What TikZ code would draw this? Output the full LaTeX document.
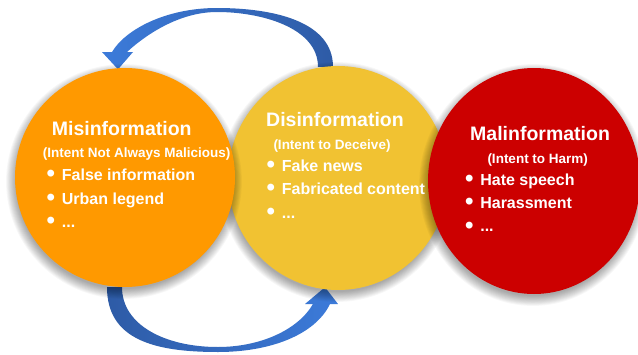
\documentclass[tikz,border=0pt]{standalone}
\usepackage{fontspec}
\setmainfont{Liberation Sans}
\usetikzlibrary{shapes.geometric,backgrounds,calc}
\definecolor{cOrange}{HTML}{FF9900}
\definecolor{cYellow}{HTML}{F1C232}
\definecolor{cRed}{HTML}{CC0000}
\definecolor{cBlueL}{HTML}{3C7BDA}
\definecolor{cBlueD}{HTML}{2E5BA6}
\newcommand\bul{\makebox[15.2pt][l]{\raisebox{-1.6pt}{\scalebox{1.5}{•}}}}
% soft shadow: centre x, centre y, x radius, y radius
\newcommand\softshade[4]{%
  \foreach \k in {0,...,11}{%
    \fill[black, opacity=0.032] (#1-1,#2+4) ellipse ({#3-2+\k*0.9} and {-(#4-2+\k*0.9)});
  }%
}
\begin{document}
\begin{tikzpicture}[x=1pt,y=-1pt,
  blob/.style={ellipse, inner sep=0pt, draw=none},
  ttl/.style={anchor=base west, inner sep=0pt, text=white, font=\bfseries\fontsize{19.5}{22}\selectfont},
  sub/.style={anchor=base west, inner sep=0pt, text=white, font=\bfseries\fontsize{13.5}{16}\selectfont},
  itm/.style={anchor=base west, inner sep=0pt, text=white, font=\bfseries\fontsize{16}{19}\selectfont}
]
\useasboundingbox (0,0) rectangle (638,354);

% circles with soft shadows
\softshade{338}{178}{110}{112}
\node[blob, fill=cYellow, minimum width=220pt, minimum height=224pt] (dis) at (338,178) {};
\softshade{125}{177.5}{110}{109.5}
\node[blob, fill=cOrange, minimum width=220pt, minimum height=219pt] (mis) at (125,177.5) {};
\softshade{534}{181}{106}{113}
\node[blob, fill=cRed, minimum width=212pt, minimum height=226pt] (mal) at (534,181) {};

% arrows (behind the circles)
\coordinate (topTail) at ($(dis.north)+(-12.5,1)$);
\coordinate (topTip) at ($(mis.north)+(-7,1.5)$);
\coordinate (botTail) at ($(mis.south)+(-10.5,0)$);
\coordinate (botTip) at ($(dis.south)+(-13,-3)$);
\begin{pgfonlayer}{background}
\fill[white] (0,0) rectangle (638,354);
\shade[left color=cBlueL, right color=cBlueD]
  ($(topTail)+(7.5,0)$) .. controls (333,22) and (275,8) .. (217,8)
  .. controls (165,8) and (125,30) .. (112,52) -- (102,52) -- (topTip) -- (133,52) -- (127,52)
  .. controls (140,40) and (175,12) .. (217,12)
  .. controls (262,12) and (318,28) .. ($(topTail)+(-7.5,0)$) -- cycle;
\shade[left color=cBlueD, right color=cBlueL]
  ($(botTail)+(-7.5,0)$) .. controls (107,340) and (155,352) .. (218,352)
  .. controls (270,352) and (315,335) .. (330,304) -- (338,304) -- (botTip) -- (305,304) -- (313,304)
  .. controls (298,330) and (260,347) .. (218,347)
  .. controls (165,347) and (122,325) .. ($(botTail)+(7.5,0)$) -- cycle;
\end{pgfonlayer}

% Misinformation
\node[ttl] (misT) at (51.7,135) {Misinformation};
\node[sub] (misS) at (42.7,157.3) {(Intent Not Always Malicious)};
\node[itm] (misA) at (46.5,180) {\bul False information};
\node[itm] (misB) at (46.5,204) {\bul Urban legend};
\node[itm] (misC) at (46.5,227) {\bul ...};

% Disinformation
\node[ttl] (disT) at (266,126.7) {Disinformation};
\node[sub] (disS) at (273.3,149.3) {(Intent to Deceive)};
\node[itm] (disA) at (266.5,171) {\bul Fake news};
\node[itm] (disB) at (266.5,194.3) {\bul Fabricated content};
\node[itm] (disC) at (266.5,218.3) {\bul ...};

% Malinformation
\node[ttl] (malT) at (470,140.7) {Malinformation};
\node[sub] (malS) at (487.3,163.3) {(Intent to Harm)};
\node[itm] (malA) at (464.9,185) {\bul Hate speech};
\node[itm] (malB) at (464.9,208.3) {\bul Harassment};
\node[itm] (malC) at (464.9,231.7) {\bul ...};
\end{tikzpicture}
\end{document}
